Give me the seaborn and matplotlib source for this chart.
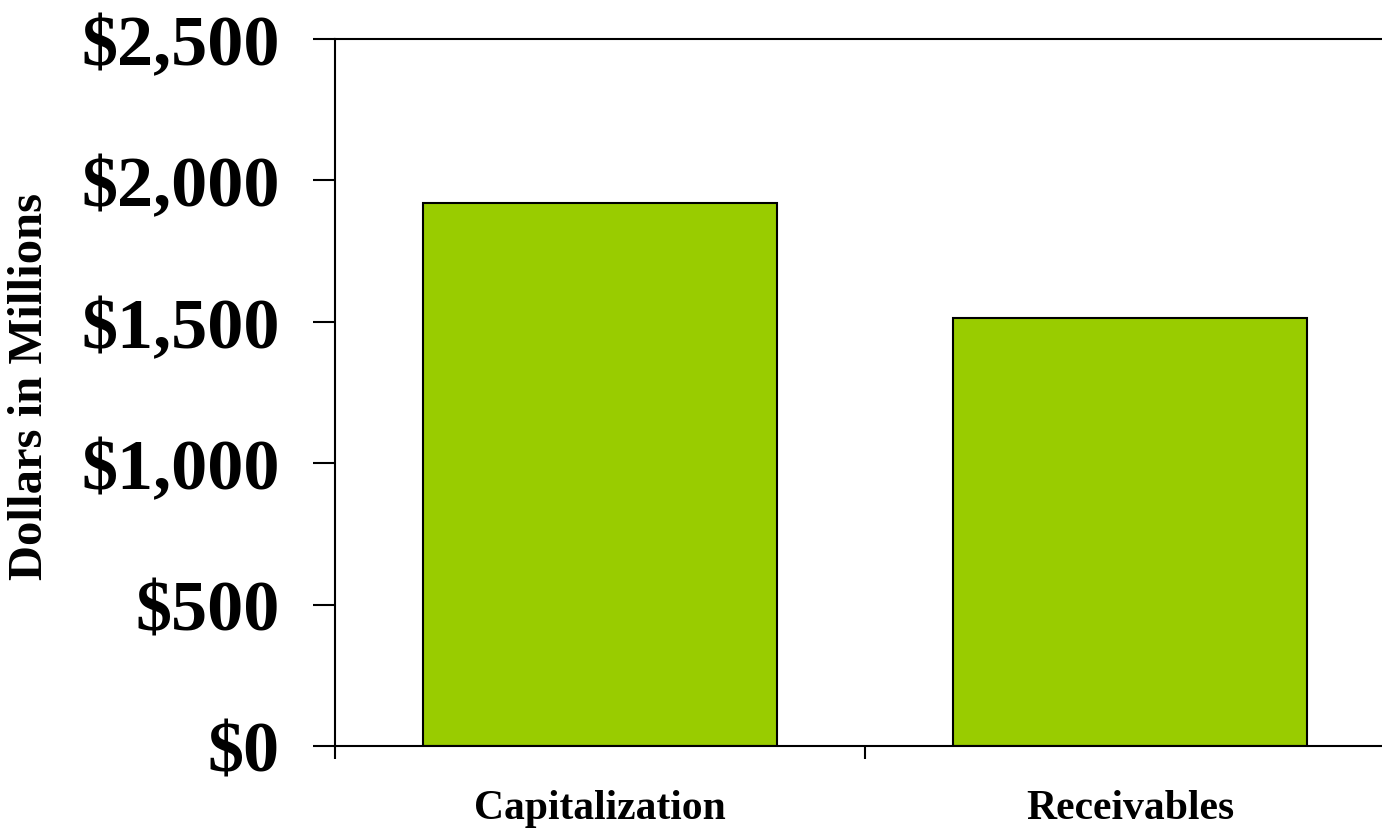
import matplotlib
matplotlib.use("Agg")
import matplotlib.pyplot as plt
import seaborn as sns
import pandas as pd
from matplotlib.ticker import FuncFormatter

categories = ["Capitalization", "Receivables"]
values = [1920, 1513]
yticks = [0, 500, 1000, 1500, 2000, 2500]

sns.set_style("white")
plt.rcParams['font.family'] = ['Liberation Serif', 'DejaVu Serif']
plt.rcParams['font.weight'] = 'bold'
plt.rcParams['text.color'] = 'black'
plt.rcParams['xtick.color'] = 'black'
plt.rcParams['ytick.color'] = 'black'
plt.rcParams['axes.labelcolor'] = 'black'

df = pd.DataFrame({"cat": categories, "val": values})

fig = plt.figure(figsize=(13.82, 8.29), dpi=100)
left = 335 / 1382
bottom = 1 - 747 / 829
height = (747 - 40) / 829
width = (1395 - 335) / 1382
ax = fig.add_axes([left, bottom, width, height])

sns.barplot(data=df, x="cat", y="val", color="#99CC00", width=0.668,
            edgecolor="black", linewidth=1.5, saturation=1, ax=ax)

ax.set_xlim(-0.5, 1.5)
ax.set_ylim(0, 2500)
ax.set_yticks(yticks)
ax.yaxis.set_major_formatter(FuncFormatter(lambda v, p: f"${int(v):,}"))
ax.set_xticks([-0.5, 0.5, 1.5], minor=False)
ax.set_xticklabels([])
ax.set_xticks([0, 1], minor=True)
ax.set_xticklabels(categories, minor=True)
ax.tick_params(axis='x', which='minor', length=0, labelsize=30, pad=31, labelcolor='black')
ax.tick_params(axis='x', which='major', length=9.5, width=1.5, direction='out', bottom=True)
ax.tick_params(axis='y', length=16, width=1.5, direction='out', left=True, labelsize=52, pad=24,
               labelcolor='black')
for lbl in ax.get_yticklabels():
    lbl.set_fontweight('bold')
for lbl in ax.get_xticklabels(minor=True):
    lbl.set_fontweight('bold')

ax.set_xlabel("")
ax.set_ylabel("Dollars in Millions", fontsize=35, fontweight='bold', color='black')
ax.yaxis.set_label_coords((52 - 335) / 1060, 0.51)

ax.spines['right'].set_visible(False)
for s in ['left', 'bottom', 'top']:
    ax.spines[s].set_linewidth(1.5)
    ax.spines[s].set_color('black')

fig.savefig("out.png", dpi=100)
